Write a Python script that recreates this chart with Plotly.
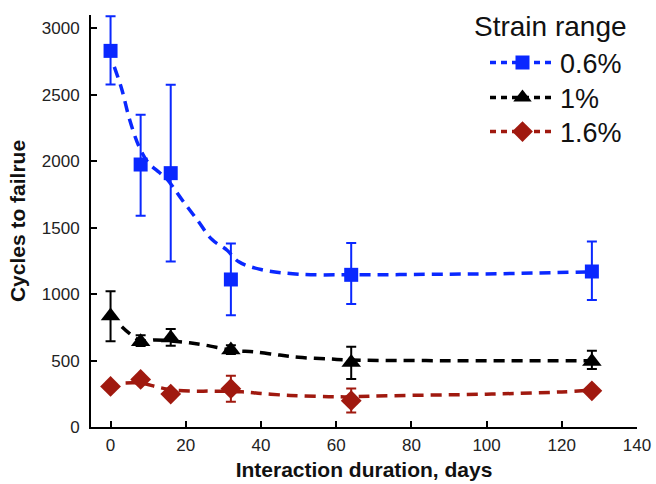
import plotly.graph_objects as go

# ---- data ----
days = [0, 8, 16, 32, 64, 128]

s06_mean = [2830, 1975, 1910, 1110, 1145, 1170]
s06_hi = [3090, 2350, 2575, 1380, 1385, 1395]
s06_lo = [2578, 1590, 1245, 840, 925, 955]

s10_mean = [835, 642, 670, 580, 485, 492]
s10_hi = [1022, 690, 738, 615, 604, 574]
s10_lo = [645, 610, 612, 550, 362, 436]

s16_mean = [305, 358, 248, 288, 198, 272]
s16_hi = [305, 385, 270, 385, 290, 285]
s16_lo = [305, 335, 230, 190, 110, 262]

# fitted (dashed) trend curves
fit06_x = [1, 3, 5, 7.5, 10, 13, 15, 19, 23, 27, 31, 34, 40, 50, 64, 90, 103, 128]
fit06_y = [2710, 2540, 2320, 2115, 1990, 1915, 1865, 1710, 1560, 1410, 1330, 1245, 1185, 1150, 1145, 1150, 1153, 1168]

fit10_x = [3, 5, 8, 12, 16, 21, 25, 33, 38, 45, 50, 58, 64, 90, 128]
fit10_y = [755, 705, 650, 655, 648, 634, 617, 574, 566, 541, 524, 512, 504, 499, 498]

fit16_x = [4, 8, 13, 17, 22, 27, 35, 40, 46, 50, 58, 64, 70, 100, 120, 128]
fit16_y = [332, 330, 297, 277, 270, 270, 265, 252, 240, 235, 228, 227, 233, 247, 264, 277]

legend_title = "Strain range"
labels = ["0.6%", "1%", "1.6%"]
colors = ["#0a28ff", "#000000", "#a0190f"]
symbols = ["square", "triangle-up", "diamond"]
sizes = [14, 17, 16]
legend_ids = ["legend", "legend2", "legend3"]
legend_ys = [0.8835, 0.7985, 0.716]

series = [
    (s06_mean, s06_hi, s06_lo, fit06_x, fit06_y),
    (s10_mean, s10_hi, s10_lo, fit10_x, fit10_y),
    (s16_mean, s16_hi, s16_lo, fit16_x, fit16_y),
]

DASH = "11px,7px"
fig = go.Figure()

for (mean, hi, lo, fx, fy), lab, col, sym, sz, lid in zip(series, labels, colors, symbols, sizes, legend_ids):
    fig.add_trace(go.Scatter(
        x=fx, y=fy, mode="lines", line=dict(color=col, width=3.5, dash=DASH, shape="spline"),
        showlegend=False, hoverinfo="skip"))
    fig.add_trace(go.Scatter(
        x=days, y=mean, mode="markers",
        marker=dict(symbol=sym, size=sz, color=col),
        error_y=dict(type="data", symmetric=False,
                     array=[h - m for h, m in zip(hi, mean)],
                     arrayminus=[m - l for m, l in zip(mean, lo)],
                     color=col, thickness=2, width=5,
                     visible=True),
        showlegend=False))
    # legend entry
    fig.add_trace(go.Scatter(
        x=[None], y=[None], mode="lines+markers", name=lab, legend=lid,
        line=dict(color=col, width=3.5, dash="6px,5px"),
        marker=dict(symbol=sym, size=sz, color=col)))

legend_common = dict(font=dict(size=27, color="#111"), xanchor="left", x=0.7216,
                     yanchor="middle", itemwidth=65, bgcolor="rgba(0,0,0,0)")

fig.update_layout(
    width=656, height=484,
    margin=dict(l=91, r=19, t=15, b=57, autoexpand=False),
    paper_bgcolor="white", plot_bgcolor="white",
    font=dict(family="Liberation Sans, Arial, sans-serif", color="#222"),
    xaxis=dict(range=[-5.2, 140], tickvals=[0, 20, 40, 60, 80, 100, 120, 140],
               showline=True, linecolor="black", linewidth=2, showgrid=False, zeroline=False,
               ticks="inside", ticklen=6, tickwidth=2, tickcolor="black",
               tickfont=dict(size=17, color="#222"), ticklabelstandoff=2,
               title=dict(text="<b>Interaction duration, days</b>",
                          font=dict(size=21, color="#111"), standoff=8)),
    yaxis=dict(range=[0, 3100], tickvals=[0, 500, 1000, 1500, 2000, 2500, 3000],
               showline=True, linecolor="black", linewidth=2, showgrid=False, zeroline=False,
               ticks="inside", ticklen=6, tickwidth=2, tickcolor="black",
               tickfont=dict(size=17, color="#222"), ticklabelstandoff=6,
               title=dict(text="<b>Cycles to failrue</b>",
                          font=dict(size=21, color="#111"), standoff=10)),
    legend=dict(y=legend_ys[0], **legend_common),
    legend2=dict(y=legend_ys[1], **legend_common),
    legend3=dict(y=legend_ys[2], **legend_common),
    annotations=[dict(text=legend_title, xref="paper", yref="paper",
                      x=0.8407, y=0.971, xanchor="center", yanchor="middle",
                      showarrow=False, font=dict(size=28, color="#111"))],
)

fig.write_html("out.html", post_script="document.body.style.margin='0';",
               config={"displayModeBar": False})
